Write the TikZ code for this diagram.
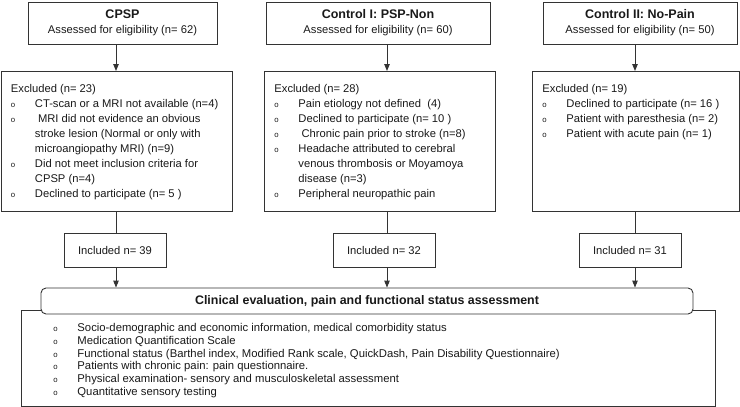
\documentclass[tikz,border=0pt]{standalone}
\usepackage{fontspec}
\setmainfont{Liberation Sans}
\usetikzlibrary{positioning,arrows.meta}

\newcommand{\bul}{\makebox[24pt][l]{\fontsize{7.8}{8}\selectfont o}}
\newcommand{\ind}{\hspace*{24pt}}

\tikzset{
  frame/.style={draw=black!80, line width=0.9pt, text=black!90},
  topbox/.style={frame, align=center, minimum height=42pt, inner sep=0pt, font=\fontsize{11.2}{15}\selectfont},
  exclbox/.style={frame, anchor=north west, inner xsep=10pt, inner ysep=0pt, font=\fontsize{11.2}{15}\selectfont},
  inclbox/.style={frame, minimum width=102pt, minimum height=34pt, inner sep=0pt, font=\fontsize{11.2}{14}\selectfont},
  headbox/.style={frame, fill=white, rounded corners=5pt, minimum width=652pt, minimum height=26pt, inner sep=0pt, font=\fontsize{12.4}{14}\selectfont\bfseries},
  listbox/.style={frame, anchor=north west, inner xsep=32pt, inner ysep=0pt, font=\fontsize{11.3}{12.8}\selectfont},
  arr/.style={draw=black!80, line width=0.9pt, -{Triangle[length=7pt,width=5.5pt]}},
  link/.style={draw=black!80, line width=0.9pt},
}

\begin{document}
\begin{tikzpicture}[x=1pt, y=-1pt]
\useasboundingbox (0,0) rectangle (740,407);
\coordinate (colA) at (116,0);
\coordinate (colB) at (387,0);
\coordinate (colC) at (635,0);

\node[topbox, minimum width=189pt] (topA) at (122.5,23) {{\fontsize{12.5}{15}\selectfont\bfseries CPSP}\\Assessed for eligibility (n= 62)};
\node[topbox, minimum width=224pt] (topB) at (378,23) {{\fontsize{12.5}{15}\selectfont\bfseries Control I: PSP-Non}\\Assessed for eligibility (n= 60)};
\node[topbox, minimum width=194pt] (topC) at (640,23) {{\fontsize{12.5}{15}\selectfont\bfseries Control II: No-Pain}\\Assessed for eligibility (n= 50)};

\node[exclbox] (exclA) at (0.5,71) {\parbox[c][140pt][t]{211pt}{\rule{0pt}{21pt}Excluded (n= 23)\\
\bul CT-scan or a MRI not available (n=4)\\
\bul\ MRI did not evidence an obvious\\
\ind stroke lesion (Normal or only with\\
\ind microangiopathy MRI) (n=9)\\
\bul Did not meet inclusion criteria for\\
\ind CPSP (n=4)\\
\bul Declined to participate (n= 5 )}};
\node[exclbox] (exclB) at (264,71) {\parbox[c][140pt][t]{211pt}{\rule{0pt}{21pt}Excluded (n= 28)\\
\bul Pain etiology not defined\ \ (4)\\
\bul Declined to participate (n= 10 )\\
\bul\ Chronic pain prior to stroke (n=8)\\
\bul Headache attributed to cerebral\\
\ind venous thrombosis or Moyamoya\\
\ind disease (n=3)\\
\bul Peripheral neuropathic pain}};
\node[exclbox] (exclC) at (532,71) {\parbox[c][140pt][t]{187pt}{\rule{0pt}{21pt}Excluded (n= 19)\\
\bul Declined to participate (n= 16 )\\
\bul Patient with paresthesia (n= 2)\\
\bul Patient with acute pain (n= 1)}};

\node[inclbox] (inclA) at (115,250) {Included n= 39};
\node[inclbox] (inclB) at (384,250) {Included n= 32};
\node[inclbox] (inclC) at (630,250) {Included n= 31};

\node[listbox] (assess) at (21,310) {\parbox[c][96pt][t]{630pt}{\rule{0pt}{21pt}\bul Socio-demographic and economic information, medical comorbidity status\\
\bul Medication Quantification Scale\\
\bul Functional status (Barthel index, Modified Rank scale, QuickDash, Pain Disability Questionnaire)\\
\bul Patients with chronic pain: pain questionnaire.\\
\bul Physical examination- sensory and musculoskeletal assessment\\
\bul Quantitative sensory testing}};
\node[headbox] (head) at (367,301) {Clinical evaluation, pain and functional status assessment};

\draw[arr] (topA.south -| colA) -- (exclA.north -| colA);
\draw[arr] (topB.south -| colB) -- (exclB.north -| colB);
\draw[arr] (topC.south -| colC) -- (exclC.north -| colC);
\draw[link] (exclA.south -| colA) -- (inclA.north -| colA);
\draw[link] (exclB.south -| colB) -- (inclB.north -| colB);
\draw[link] (exclC.south -| colC) -- (inclC.north -| colC);
\draw[arr] (inclA.south -| colA) -- (head.north -| colA);
\draw[arr] (inclB.south -| colB) -- (head.north -| colB);
\draw[arr] (inclC.south -| colC) -- (head.north -| colC);
\end{tikzpicture}
\end{document}
